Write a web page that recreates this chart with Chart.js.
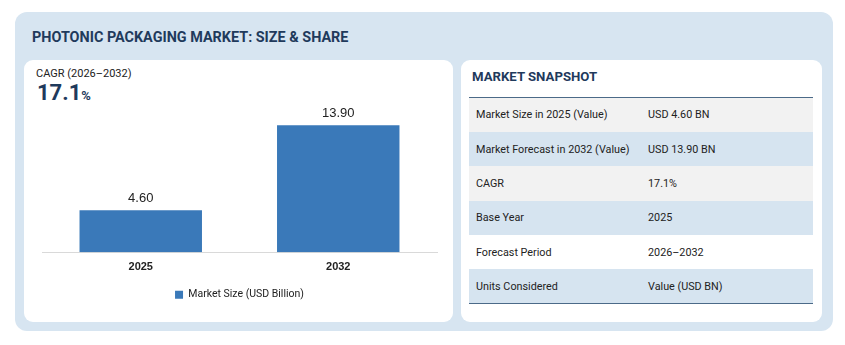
<!DOCTYPE html>
<html>
<head>
<meta charset="utf-8">
<script src="https://cdn.jsdelivr.net/npm/chart.js@4.4.1/dist/chart.umd.min.js"></script>
<style>
  html, body { margin: 0; padding: 0; background: #fff; }
  body { width: 845px; height: 345px; position: relative; font-family: Roboto, "Noto Sans", sans-serif; overflow: hidden; }
  .outer { position: absolute; left: 15px; top: 12px; width: 818px; height: 319px; background: #d7e5f1; border-radius: 12px; }
  .title { position: absolute; left: 32px; top: 29px; font-size: 14.4px; font-weight: 700; color: #1f3a5c; }
  .card { position: absolute; background: #fff; border-radius: 9px; }
  .left { left: 24px; top: 60px; width: 429px; height: 262px; }
  .right { left: 461px; top: 60px; width: 361px; height: 262px; }
  .cagr-label { position: absolute; left: 36px; top: 67px; font-size: 11px; color: #222; }
  .cagr-val { position: absolute; left: 37px; top: 80px; font-size: 22px; font-weight: 700; color: #1f3a5c; }
  .cagr-val span { font-size: 13px; }
  .chart-box { position: absolute; left: 30px; top: 100px; width: 417px; height: 213px; }
  .snap-title { position: absolute; left: 472px; top: 69px; font-size: 13.2px; font-weight: 700; color: #1f3a5c; }
  table { position: absolute; left: 469px; top: 97px; width: 344px; border-collapse: collapse; border-top: 1.5px solid #4b6a88; border-bottom: 1.5px solid #4b6a88; font-size: 10.8px; color: #222; }
  td { height: 34.4px; padding: 0 0 0 7px; box-sizing: border-box; }
  td.k { width: 172px; }
  tr.g td { background: #f2f2f2; }
  tr.b td { background: #d6e4f0; }
  tr.w td { background: #fff; }
</style>
</head>
<body>
<div class="outer"></div>
<div class="title">PHOTONIC PACKAGING MARKET: SIZE &amp; SHARE</div>
<div class="card left"></div>
<div class="card right"></div>
<div class="cagr-label">CAGR (2026–2032)</div>
<div class="cagr-val">17.1<span>%</span></div>
<div class="chart-box"><canvas id="sizeChart" width="417" height="213"></canvas></div>
<div class="snap-title">MARKET SNAPSHOT</div>
<table id="snap"></table>
<script>
const years = ["2025", "2032"];
const marketSize = [4.60, 13.90];
const seriesLabel = "Market Size (USD Billion)";

const snapKeys = ["Market Size in 2025 (Value)", "Market Forecast in 2032 (Value)", "CAGR", "Base Year", "Forecast Period", "Units Considered"];
const snapValues = ["USD 4.60 BN", "USD 13.90 BN", "17.1%", "2025", "2026–2032", "Value (USD BN)"];
const rowShades = ["g", "b", "g", "b", "w", "b"];

const table = document.getElementById("snap");
for (let i = 0; i < snapKeys.length; i++) {
  const tr = document.createElement("tr");
  tr.className = rowShades[i];
  tr.innerHTML = `<td class="k">${snapKeys[i]}</td><td>${snapValues[i]}</td>`;
  table.appendChild(tr);
}

// value labels above the bars
const barValues = {
  id: "barValues",
  afterDatasetsDraw(chart) {
    const ctx = chart.ctx;
    const meta = chart.getDatasetMeta(0);
    ctx.save();
    ctx.font = "13px 'Liberation Sans', Arial, sans-serif";
    ctx.fillStyle = "#222";
    ctx.textAlign = "center";
    ctx.textBaseline = "bottom";
    meta.data.forEach((bar, i) => {
      ctx.fillText(marketSize[i].toFixed(2), bar.x, bar.y - 5);
    });
    ctx.restore();
  },
};

new Chart(document.getElementById("sizeChart"), {
  type: "bar",
  data: {
    labels: years,
    datasets: [
      {
        label: seriesLabel,
        data: marketSize,
        backgroundColor: "#3a79b9",
        barPercentage: 0.62,
        categoryPercentage: 1,
      },
    ],
  },
  options: {
    responsive: false,
    animation: false,
    devicePixelRatio: 1,
    layout: { padding: { top: 6, left: 12, right: 10, bottom: 3 } },
    plugins: {
      tooltip: { enabled: false },
      legend: {
        position: "bottom",
        labels: {
          boxWidth: 8,
          boxHeight: 8,
          color: "#222",
          padding: 13,
          font: { family: "Roboto", size: 10.5 },
        },
      },
    },
    scales: {
      x: {
        grid: { display: false },
        border: { color: "#d9d9d9", width: 1 },
        afterFit(scale) {
          scale.height += 3;
        },
        ticks: {
          color: "#222",
          padding: 0,
          font: { family: "'Liberation Sans', Arial, sans-serif", size: 11, weight: "bold" },
        },
      },
      y: {
        display: false,
        min: 0,
        max: 16,
      },
    },
  },
  plugins: [barValues],
});
</script>
</body>
</html>
